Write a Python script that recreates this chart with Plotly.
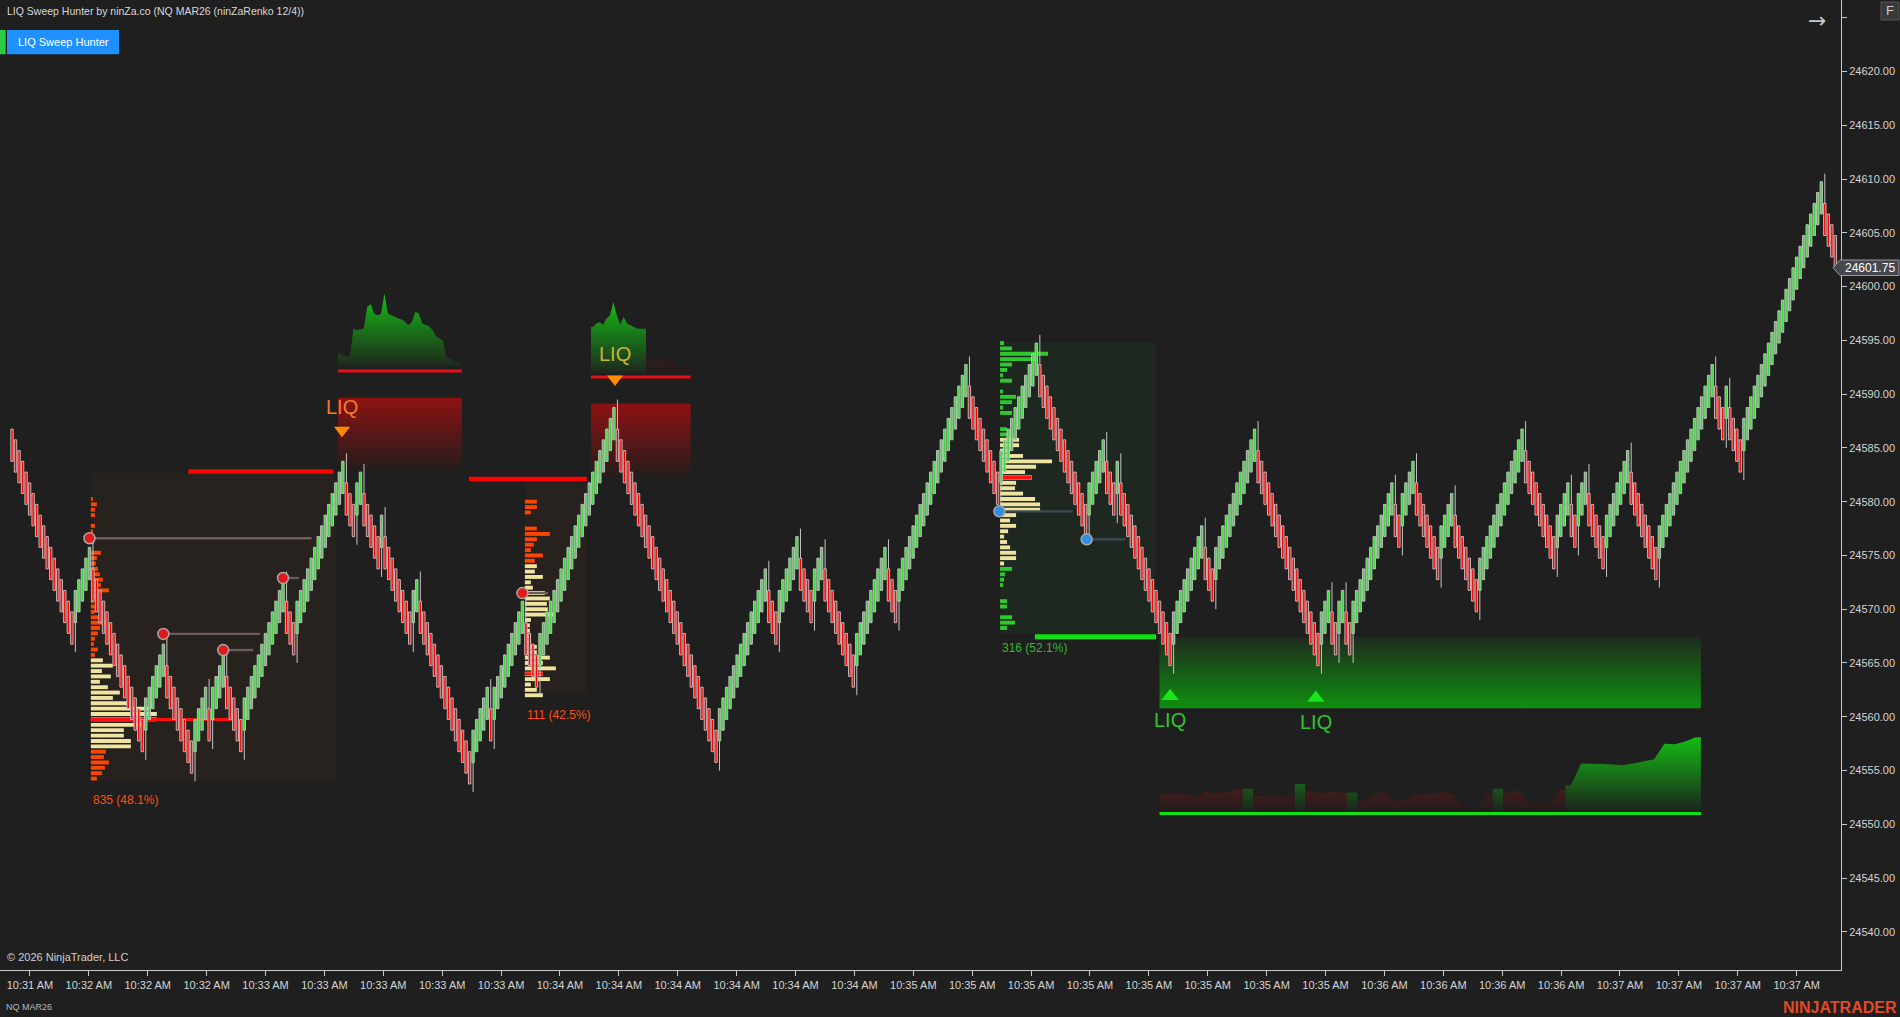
import plotly.graph_objects as go

# ---------------- values ----------------
# ninZaRenko 12/4: first brick close, then the close of the last brick of every swing
first_close = 24583.75
swing_closes = [
    24566.75, 24575.75, 24556.75, 24566.75, 24554.75, 24562.75, 24557.75, 24565.75,
    24556.75, 24572.75, 24565.75, 24583.75, 24576.75, 24582.75, 24573.75, 24578.75,
    24566.75, 24572.75, 24553.75, 24562.75, 24557.75, 24570.75, 24562.75, 24588.75,
    24555.75, 24573.75, 24566.75, 24576.75, 24568.75, 24575.75, 24562.75, 24575.75,
    24568.75, 24592.75, 24579.75, 24594.75, 24576.75, 24585.75, 24578.75, 24583.75,
    24564.75, 24577.75, 24570.75, 24586.75, 24564.75, 24571.75, 24565.75, 24571.75,
    24565.75, 24581.75, 24575.75, 24583.75, 24572.75, 24580.75, 24569.75, 24586.75,
    24573.75, 24581.75, 24575.75, 24582.75, 24573.75, 24584.75, 24572.75, 24592.75,
    24585.75, 24590.75, 24582.75, 24609.75, 24601.75,
]
last_price = 24601.75

time_labels = (["10:31 AM"] + ["10:32 AM"] * 3 + ["10:33 AM"] * 5 + ["10:34 AM"] * 6
               + ["10:35 AM"] * 8 + ["10:36 AM"] * 4 + ["10:37 AM"] * 4)
price_ticks = [24540, 24545, 24550, 24555, 24560, 24565, 24570, 24575, 24580,
               24585, 24590, 24595, 24600, 24605, 24610, 24615, 24620, 24625]

# volume profiles (row volumes, top row first, 0.5 pt rows)
prof_start = [22.4, 145.7, 280.7]
prof_end = [92.0, 163.3, 325.0]
prof_top = [24580.25, 24580.0, 24594.75]
prof_low = [24554.1, 24562.2, 24567.7]
prof_high = [24582.7, 24581.7, 24594.9]
prof1_vol = [2, 6, 4, 4, 0, 4, 2, 0, 3, 0, 10, 6, 5, 7, 9, 12, 10, 18, 6, 3, 4, 4, 9, 15,
             9, 7, 4, 3, 7, 4,
             12, 22, 11, 20, 9, 17, 29, 22, 39, 60, 66, 66, 50, 33, 33, 40, 40,
             15, 13, 18, 14, 11, 6]
prof2_vol = [12, 12, 6, 0, 0, 12, 25, 12, 9, 6, 18, 10,
             12, 10, 18, 6, 8, 20, 25, 22, 23, 30, 6, 5, 5, 6, 6, 12, 12, 25, 18, 31,
             18, 25, 6, 12, 18]
prof3_vol = [4, 12, 48, 38, 12, 7, 3, 12, 0, 3, 16, 12, 3, 12, 0, 0, 7, 8,
             19, 19, 10, 23, 52, 36, 25, 32, 16, 15, 23, 35, 40, 40, 16, 10, 16, 8,
             4, 7, 10, 16, 16, 4,
             12, 5, 4, 3, 0, 0, 7, 7, 0, 12, 15, 7]
prof_va = [(30, 46), (12, 36), (18, 41)]
prof_poc = [24559.75, 24564.0, 24582.25]
prof_poc_end = [63.0, 150.9, 289.7]
prof_text = ["835 (48.1%)", "111 (42.5%)", "316 (52.1%)"]
prof_text_y = [24552.3, 24560.2, 24566.4]

# liquidity pools (bar, price, bar where it was swept)
pool_red_bar = [22, 43, 60, 77, 145]
pool_red_price = [24576.6, 24567.7, 24566.2, 24572.9, 24571.5]
pool_red_end = [85.1, 70.5, 68.5, 81.5, 152.3]
pool_blue_bar = [280.5, 305.3]
pool_blue_price = [24579.1, 24576.5]
pool_blue_end = [301.3, 316.2]

# sweep levels
red_level_start = [50.1, 129.8]
red_level_end = [91.3, 163.3]
red_level_price = [24582.8, 24582.1]
green_level_start = [290.6]
green_level_end = [325.0]
green_level_price = [24567.45]

# LIQ zones (two bearish on top, one bullish at the bottom)
bear_zone_start = [92.6, 164.5]
bear_zone_end = [127.8, 192.8]
bear_zone_low = [24582.94, 24582.3]
bear_zone_high = [24589.67, 24589.1]
bear_base = [24592.6, 24592.0]
bear_line = [24592.15, 24591.6]
bull_zone_start, bull_zone_end = 326.0, 479.8
bull_zone_low, bull_zone_high = 24560.8, 24567.4
bull_base, bull_line = 24551.2, 24551.0

# flow histograms (+ buy / - sell, in points)
flow_liq1 = [1.18, 1.02, 0.86, 0.93, 3.5, 3.35, 3.41, 3.5, 5.51, 5.77, 4.9, 4.74, 4.84,
             6.76, 4.9, 4.74, 4.53, 4.44, 4.34, 4.12, 3.81, 4.12, 5.05, 4.9, 3.97, 3.88,
             3.72, 3.35, 2.79, 2.58, 2.42, 0.86, 0.72, 0.56, 0.31, 0.19]
flow_liq2 = [4.25, 4.56, 4.71, 4.46, 5.02, 5.33, 6.57, 5.33, 4.46, 5.18, 4.56, 4.4, 4.25,
             4.09, 4.09, 4.09, -1.0, -1.05, -1.14, -1.37, -1.24, -0.84, -1.05, -0.84,
             -0.74, -0.53, -0.53, -0.62, -0.68]
flow_bull = [-1.6, -1.6, -1.65, -1.3, -1.9, -1.6, -1.85, -2.0, 2.1, -1.45, -1.35, -1.3,
             -1.25, 2.55, -1.9, -1.6, -1.9, -1.7, 1.75, -1.0, -1.55, -1.85, -1.0, -1.15,
             -1.6, -1.55, -1.65, -1.85, -1.35, -0.1, -0.1, -1.6, 2.1, -1.75, -1.9, -0.6,
             -0.75, -0.85, -2.0, 2.4, 4.45, 4.45, 4.4, 4.35, 4.3, 4.45, 4.65, 4.85, 6.3,
             6.25, 6.5, 6.9]

liq_down_bar = [93.75, 171.3]
liq_down_price = [24586.65, 24591.4]
liq_down_text_y = [24588.8, 24593.7]
liq_up_bar = [329.0, 370.4]
liq_up_price = [24561.9, 24561.75]
liq_up_text_y = [24559.7, 24559.5]

# ---------------- renko bricks ----------------
closes, dirs = [first_close], [-1]
for target in swing_closes:
    d = 1 if target > closes[-1] else -1
    if d != dirs[-1]:
        closes.append(closes[-1] + 5 * d)
        dirs.append(d)
    while abs(closes[-1] - target) > 1e-9:
        closes.append(closes[-1] + d)
        dirs.append(d)

opens, highs, lows = [], [], []
for i, (c, d) in enumerate(zip(closes, dirs)):
    o = c - 3 * d
    hi, lo = max(o, c), min(o, c)
    if i > 0 and dirs[i - 1] != d:
        if d < 0:
            hi = closes[i - 1] + 0.75
        else:
            lo = closes[i - 1] - 0.75
    opens.append(o)
    highs.append(hi)
    lows.append(lo)

# ---------------- figure ----------------
BG = "#1f1f1f"
FONT = "Liberation Sans, Arial, sans-serif"
W, H = 1900, 1017
PW, PH = 1841, 970
BAR_PX = 3.52
HALF = 0.34          # half body width in bars


def px(x):
    return x / PW


def py(y):
    return 1 - y / PH


fig = go.Figure()


def flow_traces(x_left, x_right, base, vals, span, up_cs, dn_cs):
    out = []
    step = (x_right - x_left) / len(vals)
    j, n = 0, len(vals)
    while j < n:
        pos = vals[j] >= 0
        k = j
        while k + 1 < n and (vals[k + 1] >= 0) == pos:
            k += 1
        xs = [x_left + step * (i + 0.5) for i in range(j, k + 1)]
        hs = [abs(v) for v in vals[j:k + 1]]
        left, right = x_left + step * j, x_left + step * (k + 1)
        out.append(go.Scatter(
            x=[left] + xs + [right, right, left],
            y=[base + hs[0]] + [base + h for h in hs] + [base + hs[-1], base, base],
            mode="lines", line=dict(width=0), fill="toself",
            fillgradient=dict(type="vertical", colorscale=up_cs if pos else dn_cs,
                              start=base, stop=base + span),
            hoverinfo="skip", showlegend=False))
        j = k + 1
    return out


def seg(x0, x1, y, color, width):
    return go.Scatter(x=[x0, x1], y=[y, y], mode="lines", line=dict(color=color, width=width),
                      hoverinfo="skip", showlegend=False)


GREEN_CS = [[0, "rgba(30,40,30,1)"], [1, "#14c414"]]
RED_CS = [[0, "rgba(36,28,28,1)"], [1, "#7a1a1a"]]

# bearish LIQ zones: red gradient boxes
for x0, x1, lo, hi in zip(bear_zone_start, bear_zone_end, bear_zone_low, bear_zone_high):
    fig.add_trace(go.Scatter(
        x=[x0, x1, x1, x0, x0], y=[lo, lo, hi, hi, lo], mode="lines", line=dict(width=0),
        fill="toself", hoverinfo="skip", showlegend=False,
        fillgradient=dict(type="vertical", start=lo, stop=hi,
                          colorscale=[[0, "rgba(36,28,28,1)"], [1, "#8e1212"]])))

# bullish LIQ zone: green gradient box
fig.add_trace(go.Scatter(
    x=[bull_zone_start, bull_zone_end, bull_zone_end, bull_zone_start, bull_zone_start],
    y=[bull_zone_low, bull_zone_low, bull_zone_high, bull_zone_high, bull_zone_low],
    mode="lines", line=dict(width=0), fill="toself", hoverinfo="skip", showlegend=False,
    fillgradient=dict(type="vertical", start=bull_zone_low, stop=bull_zone_high,
                      colorscale=[[0, "#0f8f0f"], [1, "rgba(31,42,31,1)"]])))

# flow histograms
for x0, x1, base, vals in zip(bear_zone_start, bear_zone_end, bear_base, [flow_liq1, flow_liq2]):
    for t in flow_traces(x0, x1, base, vals, 7.0, GREEN_CS, RED_CS):
        fig.add_trace(t)
for t in flow_traces(bull_zone_start, bull_zone_end, bull_base, flow_bull, 8.0,
                     [[0, "rgba(28,36,28,1)"], [1, "#12d412"]],
                     [[0, "rgba(34,28,28,1)"], [0.3, "#4a1c1c"], [1, "#6a1c1c"]]):
    fig.add_trace(t)

# volume profiles
for p, vols in enumerate([prof1_vol, prof2_vol, prof3_vol]):
    out_col = "#2fc92f" if p == 2 else "#ff4500"
    va0, va1 = prof_va[p]
    ys = [prof_top[p] - 0.5 * k for k in range(len(vols))]
    cols = ["#efe5a0" if va0 <= k <= va1 else out_col for k in range(len(vols))]
    fig.add_trace(go.Bar(
        orientation="h", y=ys, x=[v / BAR_PX for v in vols], base=prof_start[p], width=0.36,
        marker=dict(color=cols, line=dict(width=0)), hoverinfo="skip", showlegend=False))
    fig.add_trace(seg(prof_start[p], prof_poc_end[p], prof_poc[p], "#ff1010", 3))

# liquidity pool lines
for b, pr, e in zip(pool_red_bar, pool_red_price, pool_red_end):
    fig.add_trace(seg(b, e, pr, "#6e5c5c", 2.3))
for b, pr, e in zip(pool_blue_bar, pool_blue_price, pool_blue_end):
    fig.add_trace(seg(b, e, pr, "#3c4c56", 2.3))

# sweep levels and zone base lines
for x0, x1, pr in zip(red_level_start, red_level_end, red_level_price):
    fig.add_trace(seg(x0, x1, pr, "#ff0000", 4.5))
for x0, x1, pr in zip(green_level_start, green_level_end, green_level_price):
    fig.add_trace(seg(x0, x1, pr, "#11e011", 5))
for x0, x1, pr in zip(bear_zone_start, bear_zone_end, bear_line):
    fig.add_trace(seg(x0, x1, pr, "#e8101a", 3))
fig.add_trace(seg(bull_zone_start, bull_zone_end, bull_line, "#11e011", 3))

# renko candles: wicks, then bodies (gray outline, coloured fill)
wx, wy = [], []
for i in range(len(closes)):
    wx += [i, i, None]
    wy += [lows[i], highs[i], None]
fig.add_trace(go.Scatter(x=wx, y=wy, mode="lines", line=dict(color="#c4c4c4", width=1),
                         hoverinfo="skip", showlegend=False))
for sign, fillc in [(1, "#38d838"), (-1, "#ff0000")]:
    bx, by = [], []
    for i in range(len(closes)):
        if dirs[i] != sign:
            continue
        lo, hi = min(opens[i], closes[i]), max(opens[i], closes[i])
        bx += [i - HALF, i + HALF, i + HALF, i - HALF, i - HALF, None]
        by += [lo, lo, hi, hi, lo, None]
    fig.add_trace(go.Scatter(x=bx, y=by, mode="lines", fill="toself", fillcolor=fillc,
                             line=dict(color="#c8c8c8", width=0.9),
                             hoverinfo="skip", showlegend=False))

# pool dots
fig.add_trace(go.Scatter(x=pool_red_bar, y=pool_red_price, mode="markers",
                         marker=dict(size=11, color="#e01a1a", line=dict(color="#a8a8a8", width=1.5)),
                         hoverinfo="skip", showlegend=False))
fig.add_trace(go.Scatter(x=pool_blue_bar, y=pool_blue_price, mode="markers",
                         marker=dict(size=11, color="#2f8fe6", line=dict(color="#a8a8a8", width=1.5)),
                         hoverinfo="skip", showlegend=False))

# LIQ signals
fig.add_trace(go.Scatter(x=liq_down_bar, y=liq_down_price, mode="markers",
                         marker=dict(symbol="triangle-down", size=14, color="#ff8c00"),
                         hoverinfo="skip", showlegend=False))
fig.add_trace(go.Scatter(x=liq_up_bar, y=liq_up_price, mode="markers",
                         marker=dict(symbol="triangle-up", size=15, color="#19e619"),
                         hoverinfo="skip", showlegend=False))

ann = []
for b, y, col in zip(liq_down_bar, liq_down_text_y, ["#f47c2c", "#cbb52b"]):
    ann.append(dict(x=b, y=y, xref="x", yref="y", text="LIQ", showarrow=False,
                    xanchor="center", yanchor="middle",
                    font=dict(family=FONT, size=20, color=col)))
for b, y in zip(liq_up_bar, liq_up_text_y):
    ann.append(dict(x=b, y=y, xref="x", yref="y", text="LIQ", showarrow=False,
                    xanchor="center", yanchor="middle",
                    font=dict(family=FONT, size=20, color="#2fc42f")))
for p in range(3):
    ann.append(dict(x=prof_start[p], y=prof_text_y[p], xref="x", yref="y", text=prof_text[p],
                    showarrow=False, xanchor="left", yanchor="middle",
                    font=dict(family=FONT, size=12, color="#33b833" if p == 2 else "#ff4d10")))


def label(x, y, text, size, color, anchor="left", family=FONT):
    return dict(x=px(x), y=py(y), xref="paper", yref="paper", xanchor=anchor,
                yanchor="middle", showarrow=False, text=text,
                font=dict(family=family, size=size, color=color))


ann += [
    label(5, 11, "LIQ Sweep Hunter by ninZa.co (NQ MAR26 (ninZaRenko 12/4))", 10.5, "#d8d8d8"),
    label(63, 42, "LIQ Sweep Hunter", 11, "#ffffff", "center"),
    label(1817, 20, "→", 22, "#c8c8c8", "center", "DejaVu Sans"),
    label(1890, 11, "F", 13, "#cfcfcf", "center"),
    label(5, 957, "© 2026 NinjaTrader, LLC", 11, "#d0d0d0"),
    label(4, 1007, "NQ MAR26", 9, "#b8b8b8"),
    label(1899, 1007, "<b>NINJATRADER</b>", 16, "#e24a25", "right",
          "Liberation Sans Narrow, Arial Narrow, sans-serif"),
    dict(x=px(1870), y=last_price, xref="paper", yref="y", showarrow=False,
         xanchor="center", yanchor="middle",
         text="24601.75", font=dict(family=FONT, size=12, color="#ffffff")),
]

h = 0.72
shapes = [
    dict(type="rect", xref="paper", yref="paper", x0=px(0), x1=px(5.7), y0=py(30), y1=py(54.3),
         fillcolor="#2ecc40", line=dict(width=0)),
    dict(type="rect", xref="paper", yref="paper", x0=px(7), x1=px(119), y0=py(30), y1=py(54.3),
         fillcolor="#1e90ff", line=dict(width=0)),
    dict(type="rect", xref="paper", yref="paper", x0=px(1881), x1=px(1899), y0=py(2), y1=py(20),
         fillcolor="#3a3a3a", line=dict(color="#555555", width=1)),
    dict(type="path", xref="paper", yref="y", fillcolor="#46464f",
         line=dict(color="#9a9aa6", width=1),
         path=(f"M {px(1833)},{last_price} L {px(1840)},{last_price + h} "
               f"L {px(1899)},{last_price + h} L {px(1899)},{last_price - h} "
               f"L {px(1840)},{last_price - h} Z")),
]
for x0, x1, lo, hi, col in zip(prof_start, prof_end, prof_low, prof_high,
                               ["#28221f", "#28221f", "#1f2721"]):
    shapes.append(dict(type="rect", xref="x", yref="y", x0=x0, x1=x1, y0=lo, y1=hi,
                       fillcolor=col, line=dict(width=0), layer="below"))

fig.update_layout(
    width=W, height=H, margin=dict(l=0, r=W - PW, t=0, b=H - PH),
    paper_bgcolor=BG, plot_bgcolor=BG, showlegend=False, barmode="overlay",
    font=dict(family=FONT, color="#d4d4d4"),
    annotations=ann, shapes=shapes,
    xaxis=dict(range=[-12 / BAR_PX, (PW - 12) / BAR_PX],
               showgrid=False, zeroline=False, showline=True, linecolor="#c8c8c8",
               ticks="outside", ticklen=5, tickcolor="#c8c8c8",
               tickvals=[5.1 + 16.73 * k for k in range(len(time_labels))],
               ticktext=time_labels, tickangle=0,
               tickfont=dict(family=FONT, size=11, color="#d4d4d4")),
    yaxis=dict(range=[24536.45, 24626.65], side="right", showgrid=False, zeroline=False,
               showline=True, linecolor="#c8c8c8", ticks="outside", ticklen=5,
               tickcolor="#c8c8c8", tickvals=price_ticks,
               ticktext=[f"{v:.2f}" if v < 24625 else "" for v in price_ticks],
               tickfont=dict(family=FONT, size=11, color="#d4d4d4")),
)

fig.write_html("out.html", config={"displayModeBar": False},
               post_script="document.body.style.margin='0';"
                           "document.body.style.overflow='hidden';")
